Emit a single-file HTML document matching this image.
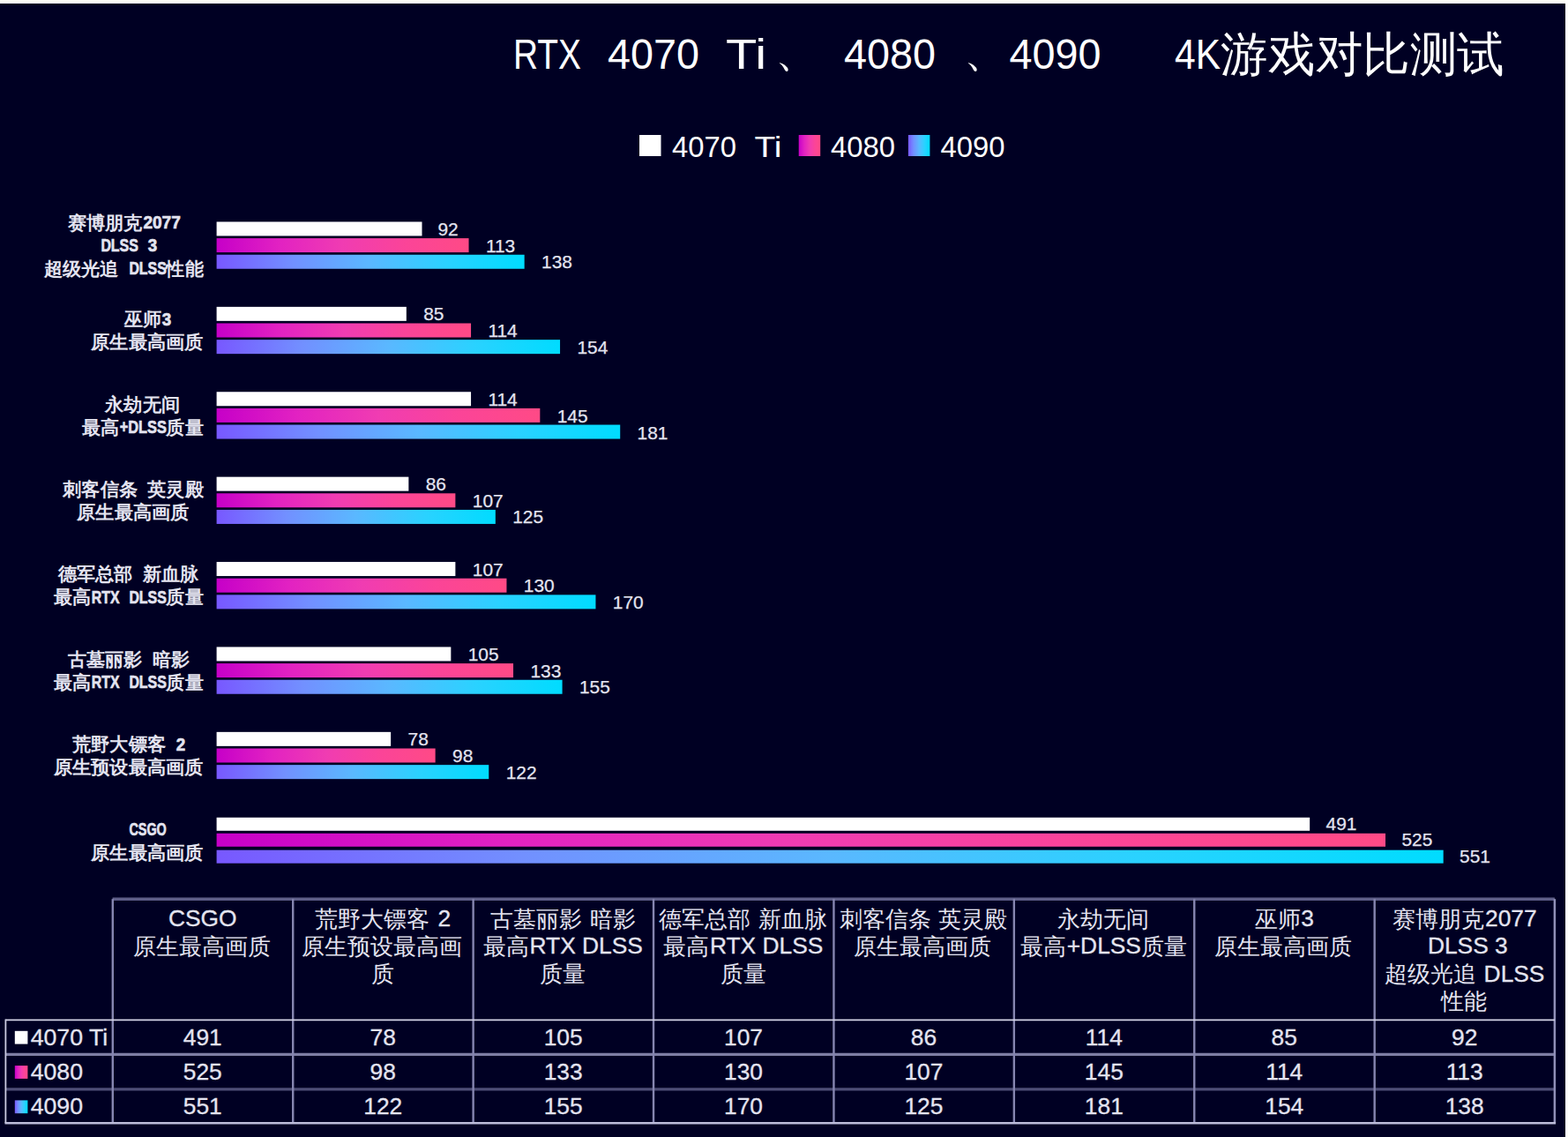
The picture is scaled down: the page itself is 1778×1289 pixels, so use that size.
<!DOCTYPE html>
<html lang="zh"><head><meta charset="utf-8"><title>RTX 4070 Ti / 4080 / 4090 4K</title>
<style>html,body{margin:0;padding:0;background:#000023;overflow:hidden}svg{display:block}text{font-family:"Liberation Sans",sans-serif}</style></head>
<body>
<svg width="1778" height="1289" viewBox="0 0 1778 1289">
<defs><linearGradient id="gp" x1="0" y1="0" x2="1" y2="0"><stop offset="0" stop-color="#c600c8"/><stop offset="0.25" stop-color="#e222c2"/><stop offset="0.5" stop-color="#f03cb2"/><stop offset="0.75" stop-color="#fb4498"/><stop offset="1" stop-color="#ff4a86"/></linearGradient><linearGradient id="gb" x1="0" y1="0" x2="1" y2="0"><stop offset="0" stop-color="#7858ff"/><stop offset="0.25" stop-color="#7290ff"/><stop offset="0.5" stop-color="#5ab8ff"/><stop offset="0.75" stop-color="#2ad2ff"/><stop offset="1" stop-color="#00dcff"/></linearGradient></defs>
<rect x="0" y="0" width="1778" height="1289" fill="#000023"/>
<rect x="0" y="0" width="1778" height="4" fill="#fdfdf8"/>
<rect x="1775" y="0" width="3" height="1289" fill="#fefefe"/>
<g fill="#ffffff" style="font-family:'Liberation Sans','Noto Sans CJK SC',sans-serif"><text x="878.53" y="75.29" font-size="49.28">、</text><text x="1092.77" y="75.29" font-size="49.28">、</text><text x="1384.4" y="80.49" font-size="53.56" textLength="321.4" lengthAdjust="spacingAndGlyphs">游戏对比测试</text><g font-size="48"><text x="582" y="77.7" textLength="77" lengthAdjust="spacingAndGlyphs">RTX</text><text x="689" y="77.7" textLength="104" lengthAdjust="spacingAndGlyphs">4070</text><text x="823" y="77.7" textLength="46" lengthAdjust="spacingAndGlyphs">Ti</text><text x="957" y="77.7" textLength="104" lengthAdjust="spacingAndGlyphs">4080</text><text x="1144.5" y="77.7" textLength="104" lengthAdjust="spacingAndGlyphs">4090</text><text x="1332" y="77.7" textLength="52" lengthAdjust="spacingAndGlyphs">4K</text></g></g>
<rect x="725" y="153" width="24.5" height="24" fill="#ffffff"/>
<g fill="#ffffff" font-size="33.6"><text x="762" y="177.6" textLength="73" lengthAdjust="spacingAndGlyphs">4070</text><text x="855.5" y="177.6" textLength="31" lengthAdjust="spacingAndGlyphs">Ti</text></g>
<rect x="905.7" y="153" width="24.5" height="24" fill="url(#gp)"/>
<g fill="#ffffff" font-size="33.6"><text x="942" y="177.6" textLength="73" lengthAdjust="spacingAndGlyphs">4080</text></g>
<rect x="1029.9" y="153" width="24.5" height="24" fill="url(#gb)"/>
<g fill="#ffffff" font-size="33.6"><text x="1066.5" y="177.6" textLength="73" lengthAdjust="spacingAndGlyphs">4090</text></g>
<rect x="245.6" y="251.45" width="232.9" height="16" fill="#ffffff"/><rect x="245.6" y="270.1" width="285.93" height="16" fill="url(#gp)"/><rect x="245.6" y="288.75" width="349.05" height="16" fill="url(#gb)"/><rect x="245.6" y="347.85" width="215.22" height="16" fill="#ffffff"/><rect x="245.6" y="366.5" width="288.45" height="16" fill="url(#gp)"/><rect x="245.6" y="385.15" width="389.45" height="16" fill="url(#gb)"/><rect x="245.6" y="444.25" width="288.45" height="16" fill="#ffffff"/><rect x="245.6" y="462.9" width="366.73" height="16" fill="url(#gp)"/><rect x="245.6" y="481.55" width="457.62" height="16" fill="url(#gb)"/><rect x="245.6" y="540.65" width="217.75" height="16" fill="#ffffff"/><rect x="245.6" y="559.3" width="270.78" height="16" fill="url(#gp)"/><rect x="245.6" y="577.95" width="316.23" height="16" fill="url(#gb)"/><rect x="245.6" y="637.05" width="270.78" height="16" fill="#ffffff"/><rect x="245.6" y="655.7" width="328.85" height="16" fill="url(#gp)"/><rect x="245.6" y="674.35" width="429.85" height="16" fill="url(#gb)"/><rect x="245.6" y="733.45" width="265.73" height="16" fill="#ffffff"/><rect x="245.6" y="752.1" width="336.43" height="16" fill="url(#gp)"/><rect x="245.6" y="770.75" width="391.98" height="16" fill="url(#gb)"/><rect x="245.6" y="829.85" width="197.55" height="16" fill="#ffffff"/><rect x="245.6" y="848.5" width="248.05" height="16" fill="url(#gp)"/><rect x="245.6" y="867.15" width="308.65" height="16" fill="url(#gb)"/><rect x="245.6" y="926.8" width="1239.57" height="15" fill="#ffffff"/><rect x="245.6" y="944.8" width="1325.42" height="15" fill="url(#gp)"/><rect x="245.6" y="963.7" width="1391.07" height="15" fill="url(#gb)"/>
<g font-family="'Liberation Sans',sans-serif" font-size="20.9" fill="#e4e4f0" stroke="#e4e4f0" stroke-width="0.25"><text x="496.4" y="266.95">92</text><text x="550.92" y="285.6">113</text><text x="614.05" y="304.25">138</text><text x="480.22" y="363.35">85</text><text x="553.45" y="382">114</text><text x="654.45" y="400.65">154</text><text x="553.45" y="460.35">114</text><text x="631.73" y="479">145</text><text x="722.62" y="497.65">181</text><text x="482.75" y="556.15">86</text><text x="535.77" y="574.8">107</text><text x="581.23" y="593.45">125</text><text x="535.77" y="652.55">107</text><text x="593.85" y="671.2">130</text><text x="694.85" y="689.85">170</text><text x="530.73" y="748.95">105</text><text x="601.42" y="767.6">133</text><text x="656.98" y="786.25">155</text><text x="462.55" y="845.35">78</text><text x="513.05" y="864">98</text><text x="573.65" y="882.65">122</text><text x="1503.57" y="941">491</text><text x="1589.42" y="959.3">525</text><text x="1655.07" y="978.2">551</text></g>
<g fill="#e4e4f0" font-weight="bold" font-size="20.5" style="font-family:'Liberation Sans','Noto Serif CJK SC',serif"><text x="76.53" y="259.7" textLength="84.8" lengthAdjust="spacingAndGlyphs">赛博朋克</text><text x="49.87" y="311.9" textLength="84.8" lengthAdjust="spacingAndGlyphs">超级光追</text><text x="188.51" y="311.9" textLength="42.2" lengthAdjust="spacingAndGlyphs">性能</text><text x="140.52" y="369.15" textLength="42.2" lengthAdjust="spacingAndGlyphs">巫师</text><text x="103.19" y="395.25" textLength="127.5" lengthAdjust="spacingAndGlyphs">原生最高画质</text><text x="119.19" y="465.55" textLength="84.8" lengthAdjust="spacingAndGlyphs">永劫无间</text><text x="92.53" y="491.65" textLength="42.2" lengthAdjust="spacingAndGlyphs">最高</text><text x="188.51" y="491.65" textLength="42.2" lengthAdjust="spacingAndGlyphs">质量</text><text x="71.2" y="561.95" textLength="84.8" lengthAdjust="spacingAndGlyphs">刺客信条</text><text x="167.18" y="561.95" textLength="63.5" lengthAdjust="spacingAndGlyphs">英灵殿</text><text x="87.2" y="588.05" textLength="127.5" lengthAdjust="spacingAndGlyphs">原生最高画质</text><text x="65.87" y="658.35" textLength="84.8" lengthAdjust="spacingAndGlyphs">德军总部</text><text x="161.85" y="658.35" textLength="63.5" lengthAdjust="spacingAndGlyphs">新血脉</text><text x="60.53" y="684.45" textLength="42.2" lengthAdjust="spacingAndGlyphs">最高</text><text x="188.51" y="684.45" textLength="42.2" lengthAdjust="spacingAndGlyphs">质量</text><text x="76.53" y="754.75" textLength="84.8" lengthAdjust="spacingAndGlyphs">古墓丽影</text><text x="172.52" y="754.75" textLength="42.2" lengthAdjust="spacingAndGlyphs">暗影</text><text x="60.53" y="780.85" textLength="42.2" lengthAdjust="spacingAndGlyphs">最高</text><text x="188.51" y="780.85" textLength="42.2" lengthAdjust="spacingAndGlyphs">质量</text><text x="81.86" y="851.15" textLength="106.2" lengthAdjust="spacingAndGlyphs">荒野大镖客</text><text x="60.53" y="877.25" textLength="170.2" lengthAdjust="spacingAndGlyphs">原生预设最高画质</text><text x="103.19" y="973.65" textLength="127.5" lengthAdjust="spacingAndGlyphs">原生最高画质</text></g>
<g font-family="'Liberation Sans',sans-serif" font-weight="bold" font-size="19.4" fill="#e4e4f0" stroke="#e4e4f0" stroke-width="0.6"><text x="162.38" y="259.25" textLength="42.46" lengthAdjust="spacingAndGlyphs">2077</text><text x="114.38" y="285.35" textLength="42.46" lengthAdjust="spacingAndGlyphs">DLSS</text><text x="167.71" y="285.35" textLength="10.46" lengthAdjust="spacingAndGlyphs">3</text><text x="146.38" y="311.45" textLength="42.46" lengthAdjust="spacingAndGlyphs">DLSS</text><text x="183.71" y="368.7" textLength="10.46" lengthAdjust="spacingAndGlyphs">3</text><text x="135.72" y="491.2" textLength="53.12" lengthAdjust="spacingAndGlyphs">+DLSS</text><text x="103.72" y="684" textLength="31.79" lengthAdjust="spacingAndGlyphs">RTX</text><text x="146.38" y="684" textLength="42.46" lengthAdjust="spacingAndGlyphs">DLSS</text><text x="103.72" y="780.4" textLength="31.79" lengthAdjust="spacingAndGlyphs">RTX</text><text x="146.38" y="780.4" textLength="42.46" lengthAdjust="spacingAndGlyphs">DLSS</text><text x="199.7" y="850.7" textLength="10.46" lengthAdjust="spacingAndGlyphs">2</text><text x="146.38" y="947.1" textLength="42.46" lengthAdjust="spacingAndGlyphs">CSGO</text></g>
<line x1="127.6" y1="1019.3" x2="1762.88" y2="1019.3" stroke="#5e5e88" stroke-width="3.4"/><line x1="6.4" y1="1195.3" x2="1762.88" y2="1195.3" stroke="#7e7ea4" stroke-width="3.2"/><line x1="6.4" y1="1234.9" x2="1762.88" y2="1234.9" stroke="#4e4e76" stroke-width="3.2"/><line x1="127.8" y1="1019.2" x2="127.8" y2="1273.3" stroke="#8686b0" stroke-width="2.4"/><line x1="332.21" y1="1019.2" x2="332.21" y2="1273.3" stroke="#8686b0" stroke-width="2.4"/><line x1="536.62" y1="1019.2" x2="536.62" y2="1273.3" stroke="#8686b0" stroke-width="2.4"/><line x1="741.03" y1="1019.2" x2="741.03" y2="1273.3" stroke="#8686b0" stroke-width="2.4"/><line x1="945.44" y1="1019.2" x2="945.44" y2="1273.3" stroke="#8686b0" stroke-width="2.4"/><line x1="1149.85" y1="1019.2" x2="1149.85" y2="1273.3" stroke="#8686b0" stroke-width="2.4"/><line x1="1354.26" y1="1019.2" x2="1354.26" y2="1273.3" stroke="#8686b0" stroke-width="2.4"/><line x1="1558.67" y1="1019.2" x2="1558.67" y2="1273.3" stroke="#8686b0" stroke-width="2.4"/><line x1="1762.88" y1="1019.2" x2="1762.88" y2="1273.3" stroke="#9090b8" stroke-width="2.5"/><line x1="6.4" y1="1156.4" x2="1762.88" y2="1156.4" stroke="#d4d4e6" stroke-width="1.9"/><line x1="5.5" y1="1273.3" x2="1764.08" y2="1273.3" stroke="#bcbcda" stroke-width="2.5"/><line x1="6.4" y1="1155.5" x2="6.4" y2="1273.3" stroke="#cacae0" stroke-width="1.8"/>
<rect x="16.8" y="1168.8" width="14.6" height="14.8" fill="#ffffff"/>
<rect x="16.8" y="1208.1" width="14.6" height="14.8" fill="url(#gp)"/>
<rect x="16.8" y="1247.4" width="14.6" height="14.8" fill="url(#gb)"/>
<g fill="#e4e4f0" font-size="26.35" style="font-family:'Liberation Sans','Noto Serif CJK SC',serif"><text x="150.75" y="1081.8">原生最高画质</text><text x="357.35" y="1050.5">荒野大镖客</text><text x="341.99" y="1081.8">原生预设最高画</text><text x="421.04" y="1113.1">质</text><text x="555.91" y="1050.5">古墓丽影</text><text x="668.64" y="1050.5">暗影</text><text x="547.85" y="1081.8">最高</text><text x="612.27" y="1113.1">质量</text><text x="747.15" y="1050.5">德军总部</text><text x="859.87" y="1050.5">新血脉</text><text x="752.26" y="1081.8">最高</text><text x="816.68" y="1113.1">质量</text><text x="951.56" y="1050.5">刺客信条</text><text x="1064.28" y="1050.5">英灵殿</text><text x="968.39" y="1081.8">原生最高画质</text><text x="1199.15" y="1050.5">永劫无间</text><text x="1157.04" y="1081.8">最高</text><text x="1293.97" y="1081.8">质量</text><text x="1422.59" y="1050.5">巫师</text><text x="1377.21" y="1081.8">原生最高画质</text><text x="1578.67" y="1050.5">赛博朋克</text><text x="1569.9" y="1113.1">超级光追</text><text x="1634.33" y="1144.4">性能</text></g>
<g font-family="'Liberation Sans',sans-serif" font-size="26.35" fill="#e4e4f0" stroke="#e4e4f0" stroke-width="0.3"><text x="191.01" y="1049.9" xml:space="preserve">CSGO</text><text x="489.1" y="1049.9" xml:space="preserve"> 2</text><text x="661.31" y="1049.9" xml:space="preserve"> </text><text x="600.55" y="1081.2" xml:space="preserve">RTX DLSS</text><text x="852.55" y="1049.9" xml:space="preserve"> </text><text x="804.96" y="1081.2" xml:space="preserve">RTX DLSS</text><text x="1056.96" y="1049.9" xml:space="preserve"> </text><text x="1209.74" y="1081.2" xml:space="preserve">+DLSS</text><text x="1475.29" y="1049.9" xml:space="preserve">3</text><text x="1684.07" y="1049.9" xml:space="preserve">2077</text><text x="1611.61" y="1081.2" xml:space="preserve"> DLSS 3</text><text x="1675.3" y="1112.5" xml:space="preserve"> DLSS</text><text x="229.81" y="1184.7" text-anchor="middle">491</text><text x="434.22" y="1184.7" text-anchor="middle">78</text><text x="638.62" y="1184.7" text-anchor="middle">105</text><text x="843.03" y="1184.7" text-anchor="middle">107</text><text x="1047.44" y="1184.7" text-anchor="middle">86</text><text x="1251.85" y="1184.7" text-anchor="middle">114</text><text x="1456.26" y="1184.7" text-anchor="middle">85</text><text x="1660.67" y="1184.7" text-anchor="middle">92</text><text x="229.81" y="1224" text-anchor="middle">525</text><text x="434.22" y="1224" text-anchor="middle">98</text><text x="638.62" y="1224" text-anchor="middle">133</text><text x="843.03" y="1224" text-anchor="middle">130</text><text x="1047.44" y="1224" text-anchor="middle">107</text><text x="1251.85" y="1224" text-anchor="middle">145</text><text x="1456.26" y="1224" text-anchor="middle">114</text><text x="1660.67" y="1224" text-anchor="middle">113</text><text x="229.81" y="1263.3" text-anchor="middle">551</text><text x="434.22" y="1263.3" text-anchor="middle">122</text><text x="638.62" y="1263.3" text-anchor="middle">155</text><text x="843.03" y="1263.3" text-anchor="middle">170</text><text x="1047.44" y="1263.3" text-anchor="middle">125</text><text x="1251.85" y="1263.3" text-anchor="middle">181</text><text x="1456.26" y="1263.3" text-anchor="middle">154</text><text x="1660.67" y="1263.3" text-anchor="middle">138</text><text x="34.7" y="1184.7" font-size="26.7">4070 Ti</text><text x="34.7" y="1224" font-size="26.7">4080</text><text x="34.7" y="1263.3" font-size="26.7">4090</text></g>
</svg>
</body></html>
